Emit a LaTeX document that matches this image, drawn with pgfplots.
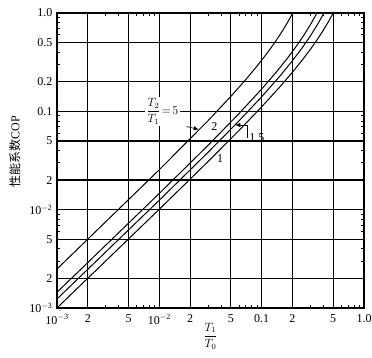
\documentclass[border=0pt]{standalone}
\usepackage{fontspec}
\setmainfont{Liberation Serif}
\newfontfamily\cjk{Noto Sans CJK SC}
\usepackage{pgfplots}
\pgfplotsset{compat=1.18}
\usetikzlibrary{calc,arrows.meta}
\newcommand{\lab}{\fontsize{12}{14}\selectfont}
\begin{document}
\begin{tikzpicture}
\begin{axis}[name=ax, xmode=log, ymode=log,
  width=307pt, height=295pt, scale only axis,
  xmin=0.001, xmax=1, ymin=0.001, ymax=1,
  xtick={0.001,0.002,0.005,0.01,0.02,0.05,0.1,0.2,0.5,1},
  xticklabels={10\textsuperscript{$-$3},2,5,10\textsuperscript{$-$2},2,5,0.1,2,5,1.0},
  ytick={0.001,0.002,0.005,0.01,0.02,0.05,0.1,0.2,0.5,1},
  yticklabels={10\textsuperscript{$-$3},2,5,10\textsuperscript{$-$2},2,5,0.1,0.2,0.5,1.0},
  minor xtick={0.003,0.004,0.006,0.007,0.008,0.009,0.03,0.04,0.06,0.07,0.08,0.09,0.3,0.4,0.6,0.7,0.8,0.9},
  minor ytick={0.003,0.004,0.006,0.007,0.008,0.009,0.03,0.04,0.06,0.07,0.08,0.09,0.3,0.4,0.6,0.7,0.8,0.9},
  grid=major, major grid style={black, line width=1.2pt},
  axis line style={line width=1.4pt},
  tick align=inside, major tick length=0pt, minor tick length=3.5pt,
  every minor tick/.style={black, line width=0.7pt},
  tick pos=both,
  xticklabel style={yshift=-3pt, font=\lab},
  yticklabel style={xshift=-1pt, font=\lab},
  every axis y label/.style={at={(axis description cs:-0.137,0.529)}, rotate=90, anchor=center},
  every axis x label/.style={at={(axis description cs:0.5,-0.095)}, anchor=center},
  ylabel={\fontsize{12}{14}\selectfont\cjk 性能系数\rmfamily COP},
  xlabel={\lab$\displaystyle\frac{T_1}{T_0}$},
]
% T2/T1 = 5
\addplot[black, line width=1pt] coordinates {
(0.001,0.0024915) (0.01,0.025487) (0.03,0.080567) (0.05,0.141900) (0.07,0.210616)
(0.09,0.288131) (0.11,0.376248) (0.13,0.477310) (0.15,0.594390) (0.17,0.731626)
(0.19,0.894710) (0.20118,1.0)};
% T2/T1 = 2
\addplot[black, line width=1pt] coordinates {
(0.001,0.0014448) (0.01,0.014638) (0.03,0.045239) (0.06,0.094765) (0.1,0.168592)
(0.14,0.253097) (0.18,0.350777) (0.22,0.464973) (0.26,0.600258) (0.30,0.763077)
(0.33,0.908725) (0.346574,1.0)};
% T2/T1 = 1.5
\addplot[black, line width=1pt] coordinates {
(0.001,0.0012347) (0.01,0.012486) (0.03,0.038416) (0.06,0.079901) (0.1,0.140661)
(0.15,0.226953) (0.2,0.327370) (0.25,0.445688) (0.3,0.587164) (0.35,0.759335)
(0.38,0.881814) (0.405465,1.0)};
% T2/T1 = 1
\addplot[black, line width=1pt] coordinates {
(0.001,0.001001) (0.01,0.010101) (0.03,0.030928) (0.06,0.063830) (0.1,0.111111)
(0.15,0.176471) (0.2,0.25) (0.25,0.333333) (0.3,0.428571) (0.35,0.538462)
(0.4,0.666667) (0.45,0.818182) (0.5,1.0)};
% labels
\node[fill=white, inner sep=1.5pt, font=\lab] (lab5) at (axis cs:0.0107,0.1) {$\displaystyle\frac{T_2}{T_1}\!=\!5$};
\draw[-{Latex[length=5pt,width=4.5pt]}, line width=0.7pt] (axis cs:0.0185,0.070) -- (axis cs:0.0243,0.0655);
\node[font=\lab] at (axis cs:0.0345,0.0693) {2};
\draw[-{Latex[length=5pt,width=4.5pt]}, line width=0.7pt] (axis cs:0.0720,0.0726) -- (axis cs:0.0552,0.0726);
\draw[line width=0.7pt] (axis cs:0.0720,0.0726) -- (axis cs:0.0720,0.0536);
\node[font=\lab, anchor=west, inner sep=1pt] at (axis cs:0.0740,0.0545) {1.5};
\node[font=\lab] at (axis cs:0.0392,0.033) {1};
\end{axis}
\pgfresetboundingbox
\path ($(ax.south west)+(-57pt,-50pt)$) rectangle ($(ax.north east)+(8pt,13pt)$);
\end{tikzpicture}
\end{document}
